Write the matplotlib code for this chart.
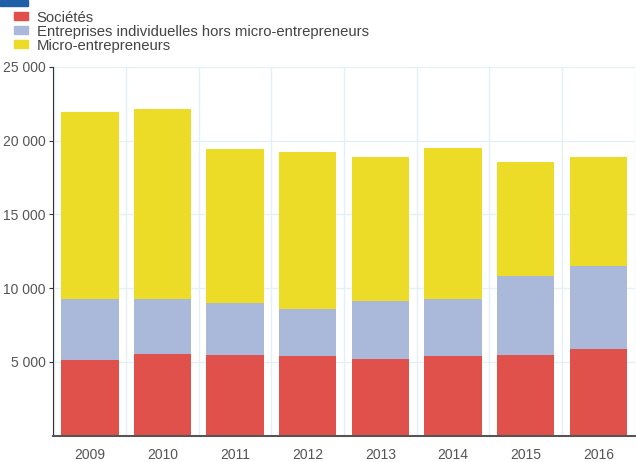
import matplotlib
matplotlib.use("Agg")
from matplotlib import patches, pyplot as plt
import numpy as np

plt.rcParams['font.family'] = ['Liberation Sans', 'DejaVu Sans']

years = ['2009', '2010', '2011', '2012', '2013', '2014', '2015', '2016']
societes = [5150, 5540, 5450, 5400, 5180, 5400, 5490, 5900]
entreprises_indiv = [4090, 3760, 3520, 3160, 3940, 3840, 5350, 5620]
micro_entrepreneurs = [12690, 12850, 10470, 10690, 9790, 10260, 7710, 7360]
series_names = ['Sociétés', 'Entreprises individuelles hors micro-entrepreneurs',
                'Micro-entrepreneurs']
colors = ['#e0514b', '#aab9d9', '#ecdb27']
yticks = [5000, 10000, 15000, 20000, 25000]

fig = plt.figure(figsize=(6.36, 4.62), dpi=100)
ax = fig.add_axes([0.083, 0.057, 0.915, 0.798])

x = np.arange(len(years))
bottom = np.zeros(len(years))
for vals, name, col in zip([societes, entreprises_indiv, micro_entrepreneurs], series_names, colors):
    ax.bar(x, vals, width=0.79, bottom=bottom, color=col, label=name, zorder=2)
    bottom += np.array(vals)

ax.set_xlim(-0.51, 7.49)
ax.set_ylim(0, 25000)
ax.set_xticks(x)
ax.set_xticklabels(years)
ax.set_yticks(yticks)
ax.set_yticklabels([f"{v:,}".replace(",", " ") for v in yticks])
ax.set_xticks(np.arange(-0.5, 8, 1), minor=True)
ax.grid(True, axis='y', color='#e4f0f6', linewidth=1, zorder=0)
ax.grid(True, axis='x', which='minor', color='#e4f0f6', linewidth=1, zorder=0)
ax.tick_params(axis='x', which='both', length=0, pad=9, labelsize=10, labelcolor='#555555')
ax.tick_params(axis='y', length=3, color='#333333', labelsize=10, labelcolor='#555555', pad=2)
for s in ['top', 'right']:
    ax.spines[s].set_visible(False)
ax.spines['left'].set_color('#333333')
ax.spines['bottom'].set_color('#555555')
ax.spines['bottom'].set_linewidth(1.5)

handles = [patches.Patch(color=c) for c in colors]
fig.legend(handles, series_names, loc='upper left', bbox_to_anchor=(0.012, 0.99),
           frameon=False, fontsize=10.7, handlelength=1.0, handleheight=0.42,
           handletextpad=0.55, labelspacing=0.0, labelcolor='#444444', borderaxespad=0)

# blue title marker partially visible at top
fig.patches.append(patches.Rectangle((0, 0.988), 0.044, 0.012, transform=fig.transFigure,
                                     color='#1f5fa8'))

fig.savefig('out.png', dpi=100)
